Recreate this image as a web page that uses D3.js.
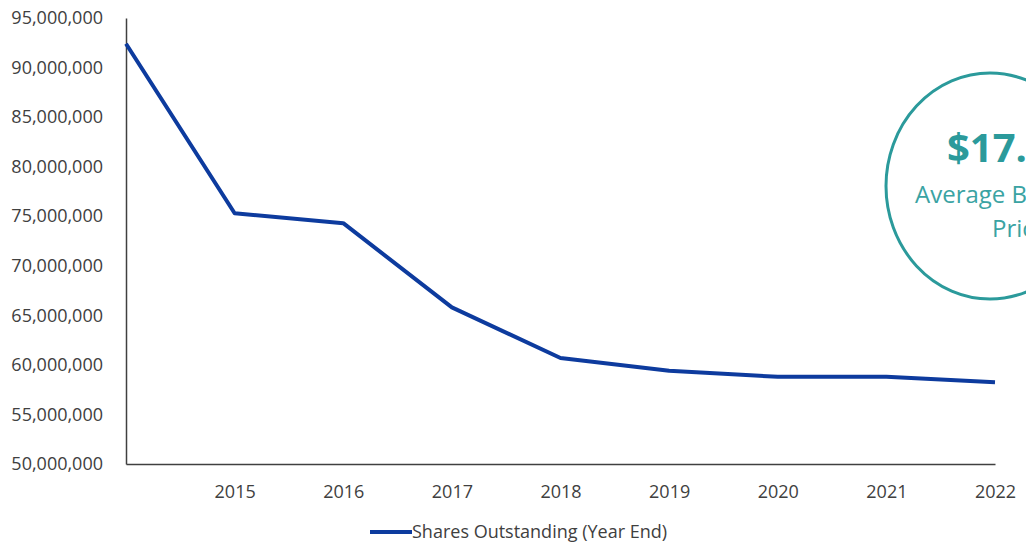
<!DOCTYPE html>
<html>
<head>
<meta charset="utf-8">
<script src="https://cdn.jsdelivr.net/npm/d3@7"></script>
<style>
  body { margin: 0; background: #fff; }
  svg { display: block; font-family: "Open Sans", sans-serif; }
</style>
</head>
<body>
<svg id="chart" width="1026" height="549"></svg>
<script>
// Data
const years = [2014, 2015, 2016, 2017, 2018, 2019, 2020, 2021, 2022];
const yearLabels = ["", "2015", "2016", "2017", "2018", "2019", "2020", "2021", "2022"];
const sharesOutstanding = [92400000, 75300000, 74300000, 65800000, 60700000, 59400000, 58800000, 58800000, 58250000];
const yTicks = [50000000, 55000000, 60000000, 65000000, 70000000, 75000000, 80000000, 85000000, 90000000, 95000000];
const seriesName = "Shares Outstanding (Year End)";
const calloutLines = ["$17.", "Average Buyback", "Price"];

const lineColor = "#0d3b9e";
const teal = "#2b9a9b";
const textColor = "#404040";

const svg = d3.select("#chart");

const x = d3.scaleLinear()
    .domain([2014, 2022])
    .range([126, 995]);

const y = d3.scaleLinear()
    .domain([50000000, 95000000])
    .range([464, 18]);

// Y axis
const yAxis = svg.append("g")
    .attr("transform", "translate(126,0)")
    .call(d3.axisLeft(y).tickValues(yTicks).tickSize(0).tickPadding(23).tickFormat(d3.format(",")));
yAxis.select(".domain").attr("stroke", "#404040").attr("stroke-width", 1.5);
yAxis.selectAll("text")
    .attr("font-size", 18)
    .attr("font-family", "Open Sans, sans-serif")
    .attr("fill", textColor);

// X axis
const xAxis = svg.append("g")
    .attr("transform", "translate(0,464)")
    .call(d3.axisBottom(x).tickValues(years).tickSize(0).tickPadding(21)
        .tickFormat((d, i) => yearLabels[i]));
xAxis.select(".domain").attr("stroke", "#404040").attr("stroke-width", 1.5);
xAxis.selectAll("text")
    .attr("font-size", 18)
    .attr("font-family", "Open Sans, sans-serif")
    .attr("fill", textColor);

// Series line
const data = years.map((yr, i) => ({ year: yr, value: sharesOutstanding[i] }));

const line = d3.line()
    .x(d => x(d.year))
    .y(d => y(d.value));

svg.append("path")
    .datum(data)
    .attr("fill", "none")
    .attr("stroke", lineColor)
    .attr("stroke-width", 4)
    .attr("stroke-linejoin", "round")
    .attr("d", line);

// Callout ellipse (clipped by the right edge)
const callout = svg.append("g");
callout.append("ellipse")
    .attr("cx", 990)
    .attr("cy", 186)
    .attr("rx", 104)
    .attr("ry", 113)
    .attr("fill", "#fff")
    .attr("stroke", teal)
    .attr("stroke-width", 3);

callout.append("text")
    .attr("x", 947)
    .attr("y", 162)
    .attr("font-size", 40)
    .attr("font-weight", "bold")
    .attr("fill", teal)
    .text(calloutLines[0]);

callout.append("text")
    .attr("x", 915)
    .attr("y", 203)
    .attr("font-size", 24)
    .attr("fill", "#3aa3a3")
    .text(calloutLines[1]);

callout.append("text")
    .attr("x", 992)
    .attr("y", 237)
    .attr("font-size", 24)
    .attr("fill", "#3aa3a3")
    .text(calloutLines[2]);

// Legend
const legend = svg.append("g").attr("transform", "translate(370,532)");
legend.append("line")
    .attr("x1", 0).attr("x2", 42)
    .attr("y1", 0).attr("y2", 0)
    .attr("stroke", lineColor)
    .attr("stroke-width", 4);
legend.append("text")
    .attr("x", 42)
    .attr("y", 6)
    .attr("font-size", 18)
    .attr("fill", textColor)
    .text(seriesName);
</script>
</body>
</html>
